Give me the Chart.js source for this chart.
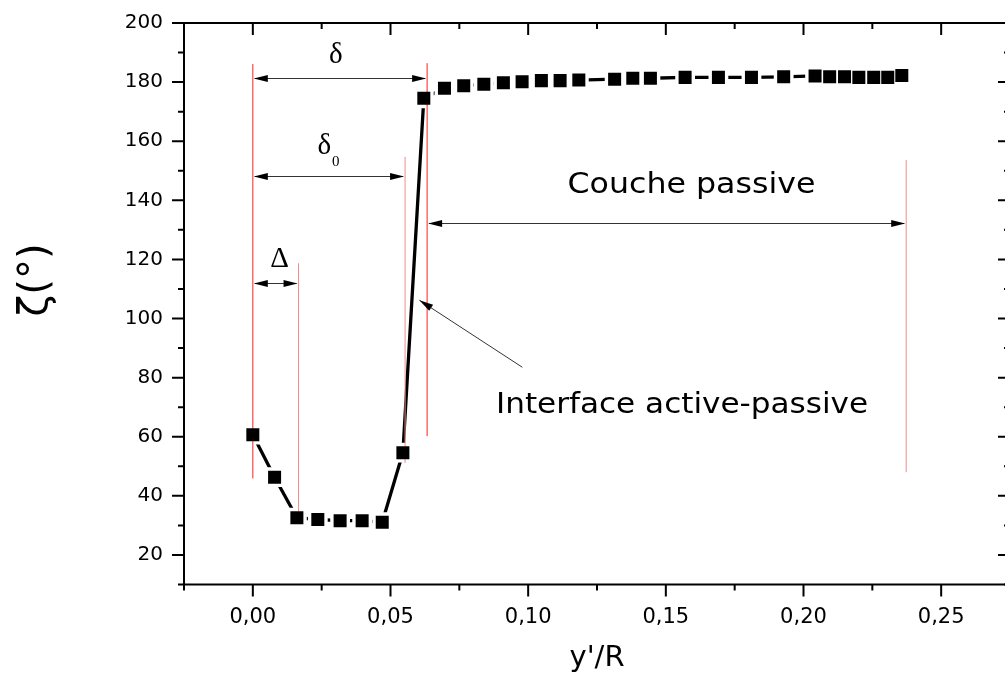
<!DOCTYPE html>
<html>
<head>
<meta charset="utf-8">
<script src="https://cdn.jsdelivr.net/npm/chart.js@4.4.0/dist/chart.umd.min.js"></script>
<style>
  html, body { margin: 0; padding: 0; background: #fff; overflow: hidden; }
  #wrap { width: 1030px; height: 677px; }
</style>
</head>
<body>
<div id="wrap"><canvas id="chart" width="1030" height="677"></canvas></div>
<script>
// measured profile: y'/R and zeta (degrees)
const yOverR = [0.000, 0.0079, 0.0160, 0.0236, 0.0317, 0.0397, 0.0470, 0.0545, 0.0621,
  0.0696, 0.0766, 0.0839, 0.0910, 0.0978, 0.1048, 0.1116, 0.1184, 0.1314, 0.1380,
  0.1444, 0.1570, 0.1691, 0.1811, 0.1928, 0.2042, 0.2095, 0.2149, 0.2201, 0.2255,
  0.2306, 0.2357];
const zeta = [60.7, 46.3, 32.6, 32.0, 31.6, 31.6, 31.1, 54.6, 174.5,
  177.9, 178.8, 179.3, 179.8, 180.1, 180.5, 180.5, 180.7, 181.0, 181.3,
  181.3, 181.6, 181.6, 181.6, 181.8, 182.1, 181.8, 181.8, 181.6, 181.6,
  181.6, 182.2];

// red marker lines: x position, lower and upper end
const redX = [0.000, 0.0166, 0.0553, 0.0633, 0.2373];
const redLow = [45.9, 34.7, 51.1, 60.2, 48.0];
const redHigh = [186.1, 118.7, 154.7, 186.4, 153.6];

// double arrows: from x, to x, at y
const dimFrom = [0.000, 0.000, 0.000, 0.0633];
const dimTo = [0.0633, 0.0553, 0.0166, 0.2373];
const dimY = [181.5, 148.2, 112.0, 132.4];

// pointer arrow to the interface: tail and head
const pointerX = [0.0979, 0.0605];
const pointerY = [83.5, 106.2];

const redColors = ['#ff2020', '#f58a8a', '#f58a8a', '#ff2020', '#f58a8a'];

const pts = yOverR.map((v, i) => ({ x: v, y: zeta[i] }));

function isMajorX(v) {
  return Math.abs(v / 0.05 - Math.round(v / 0.05)) < 1e-6;
}

function arrowHead(ctx, x1, y1, x2, y2) {
  const a = Math.atan2(y2 - y1, x2 - x1);
  ctx.save();
  ctx.translate(x2, y2);
  ctx.rotate(a);
  ctx.beginPath();
  ctx.moveTo(0, 0);
  ctx.lineTo(-14, -3.6);
  ctx.lineTo(-14, 3.6);
  ctx.closePath();
  ctx.fill();
  ctx.restore();
}

// text slightly widened, like the original figure
function wideText(ctx, str, px, py, stretch) {
  ctx.save();
  ctx.translate(px, py);
  ctx.scale(stretch, 1);
  ctx.fillText(str, 0, 0);
  ctx.restore();
}

const notes = {
  id: 'notes',
  afterDatasetsDraw(chart) {
    const { ctx, scales: { x, y } } = chart;
    ctx.save();
    ctx.strokeStyle = '#333';
    ctx.fillStyle = '#000';
    ctx.lineWidth = 1;

    dimY.forEach((v, i) => {
      const x1 = x.getPixelForValue(dimFrom[i]);
      const x2 = x.getPixelForValue(dimTo[i]);
      const py = Math.round(y.getPixelForValue(v)) + 0.5;
      ctx.beginPath();
      ctx.moveTo(x1 + 2, py);
      ctx.lineTo(x2 - 2, py);
      ctx.stroke();
      arrowHead(ctx, x2, py, x1 + 1, py);
      arrowHead(ctx, x1, py, x2 - 1, py);
    });

    const tx = x.getPixelForValue(pointerX[0]), ty = y.getPixelForValue(pointerY[0]);
    const hx = x.getPixelForValue(pointerX[1]), hy = y.getPixelForValue(pointerY[1]);
    ctx.beginPath();
    ctx.moveTo(tx, ty);
    ctx.lineTo(hx, hy);
    ctx.stroke();
    arrowHead(ctx, tx, ty, hx, hy);

    ctx.textAlign = 'center';
    ctx.textBaseline = 'middle';
    ctx.font = '29px "Liberation Serif"';
    ctx.fillText('δ', x.getPixelForValue(0.0301), y.getPixelForValue(189.2));
    ctx.fillText('δ', x.getPixelForValue(0.0260), y.getPixelForValue(158.3));
    ctx.fillText('Δ', x.getPixelForValue(0.0097), y.getPixelForValue(120.1));
    ctx.font = '15px "Liberation Serif"';
    ctx.fillText('0', x.getPixelForValue(0.0301), y.getPixelForValue(152.9));

    ctx.font = '28px "DejaVu Sans"';
    wideText(ctx, 'Couche passive', x.getPixelForValue(0.1593), y.getPixelForValue(144.8), 1.13);
    wideText(ctx, 'Interface active-passive', x.getPixelForValue(0.1559), y.getPixelForValue(70.6), 1.11);

    // y axis title
    ctx.save();
    ctx.translate(37, 280);
    ctx.rotate(-Math.PI / 2);
    ctx.font = '40px "DejaVu Sans"';
    ctx.fillText('ζ(°)', 0, 0);
    ctx.restore();
    ctx.restore();
  },
  afterDraw(chart) {
    const { ctx, chartArea: a, scales: { x, y } } = chart;
    ctx.save();
    ctx.strokeStyle = '#000';
    ctx.lineWidth = 2;
    ctx.strokeRect(a.left, a.top, a.right - a.left, a.bottom - a.top);
    ctx.beginPath();
    x.ticks.forEach(t => {
      const px = x.getPixelForValue(t.value);
      const len = isMajorX(t.value) ? 12 : 6;
      ctx.moveTo(px, a.bottom);
      ctx.lineTo(px, a.bottom + len);
      ctx.moveTo(px, a.top);
      ctx.lineTo(px, a.top + len);
    });
    y.ticks.forEach(t => {
      const py = y.getPixelForValue(t.value);
      const len = t.value % 20 === 0 ? 12 : 6;
      ctx.moveTo(a.left, py);
      ctx.lineTo(a.left - len, py);
      ctx.moveTo(a.right, py);
      ctx.lineTo(a.right - len, py);
    });
    ctx.stroke();
    ctx.restore();
  }
};

const redSets = redX.map((v, i) => ({
  data: [{ x: v, y: redLow[i] }, { x: v, y: redHigh[i] }],
  showLine: true,
  borderColor: redColors[i],
  borderWidth: 1,
  pointRadius: 0,
  order: 1
}));

new Chart(document.getElementById('chart'), {
  type: 'scatter',
  data: {
    datasets: [
      { data: pts, pointStyle: 'rect', pointRadius: 9.2, backgroundColor: '#000', borderWidth: 0, order: 0 },
      ...redSets,
      { data: pts, pointStyle: 'rect', pointRadius: 14, backgroundColor: '#fff', borderWidth: 0, order: 2 },
      { data: pts, showLine: true, borderColor: '#000', borderWidth: 3.3, pointRadius: 0, order: 3 }
    ]
  },
  options: {
    responsive: false,
    animation: false,
    layout: { padding: { top: 23, right: 20, left: 0, bottom: 0 } },
    plugins: { legend: { display: false }, tooltip: { enabled: false } },
    scales: {
      x: {
        type: 'linear',
        min: -0.025,
        max: 0.275,
        afterFit: s => { s.height = 92.5; s.paddingLeft = 0; s.paddingRight = 0; },
        grid: { display: false, drawTicks: false },
        border: { display: false },
        ticks: {
          stepSize: 0.025,
          padding: 20,
          autoSkip: false,
          maxRotation: 0,
          color: '#000',
          font: { family: 'DejaVu Sans', size: 21 },
          callback: v => isMajorX(v) ? v.toFixed(2).replace('.', ',') : ''
        },
        title: {
          display: true,
          text: "y'/R",
          color: '#000',
          font: { family: 'DejaVu Sans', size: 29 },
          padding: { top: 0, bottom: 1 }
        }
      },
      y: {
        min: 10,
        max: 200,
        afterFit: s => { s.width = 184; s.paddingTop = 0; s.paddingBottom = 0; },
        grid: { display: false, drawTicks: false },
        border: { display: false },
        ticks: {
          stepSize: 10,
          padding: 21,
          autoSkip: false,
          color: '#000',
          font: { family: 'DejaVu Sans', size: 20 },
          callback: v => v % 20 === 0 ? String(v) : ''
        }
      }
    }
  },
  plugins: [notes]
});
</script>
</body>
</html>
